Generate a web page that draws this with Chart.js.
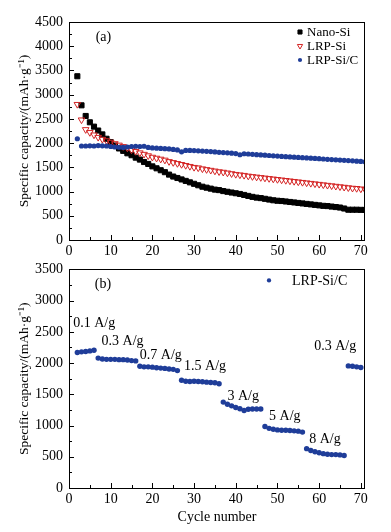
<!DOCTYPE html>
<html>
<head>
<meta charset="utf-8">
<script src="https://cdn.jsdelivr.net/npm/chart.js"></script>
<style>
  body { margin: 0; background: #fff; width: 391px; height: 532px; position: relative; overflow: hidden; }
  canvas { position: absolute; left: 0; }
  #capChart { top: 0; }
  #rateChart { top: 255px; }
</style>
</head>
<body>
<canvas id="capChart" width="391" height="260" style="width:391px;height:260px"></canvas>
<canvas id="rateChart" width="391" height="277" style="width:391px;height:277px"></canvas>
<script>
// (a) cycling at constant current
const cyclesA = [2, 3, 4, 5, 6, 7, 8, 9, 10, 11, 12, 13, 14, 15, 16, 17, 18, 19, 20, 21,
  22, 23, 24, 25, 26, 27, 28, 29, 30, 31, 32, 33, 34, 35, 36, 37, 38, 39, 40, 41,
  42, 43, 44, 45, 46, 47, 48, 49, 50, 51, 52, 53, 54, 55, 56, 57, 58, 59, 60, 61,
  62, 63, 64, 65, 66, 67, 68, 69, 70, 71];
const nanoSi = [3380, 2780, 2560, 2430, 2340, 2260, 2180, 2090, 2020, 1950,
  1890, 1840, 1790, 1750, 1700, 1660, 1610, 1570, 1520, 1480,
  1440, 1400, 1350, 1310, 1280, 1250, 1220, 1190, 1160, 1130,
  1100, 1080, 1060, 1040, 1030, 1010, 995, 980, 965, 950,
  930, 910, 890, 875, 865, 850, 835, 820, 810, 805,
  795, 785, 775, 765, 755, 745, 735, 725, 715, 705,
  700, 690, 680, 670, 650, 625, 625, 625, 622, 620];
const lrpSi = [2800, 2480, 2280, 2220, 2170, 2120, 2080, 2050, 2020, 1990,
  1960, 1930, 1900, 1860, 1830, 1800, 1770, 1740, 1710, 1690,
  1670, 1650, 1620, 1600, 1580, 1560, 1540, 1520, 1500, 1490,
  1470, 1455, 1440, 1425, 1410, 1400, 1385, 1370, 1355, 1345,
  1335, 1320, 1310, 1300, 1290, 1280, 1270, 1260, 1250, 1240,
  1230, 1220, 1210, 1200, 1190, 1180, 1170, 1160, 1150, 1140,
  1130, 1120, 1110, 1100, 1090, 1080, 1070, 1065, 1055, 1045];
const lrpSiC = [2090, 1940, 1940, 1945, 1940, 1950, 1945, 1940, 1930, 1920,
  1915, 1910, 1920, 1930, 1935, 1930, 1935, 1910, 1900, 1895,
  1890, 1885, 1880, 1870, 1860, 1820, 1850, 1850, 1845, 1840,
  1835, 1830, 1825, 1818, 1810, 1805, 1800, 1792, 1785, 1760,
  1780, 1775, 1768, 1762, 1756, 1750, 1744, 1738, 1732, 1726,
  1720, 1715, 1710, 1705, 1700, 1695, 1690, 1684, 1678, 1672,
  1666, 1660, 1655, 1650, 1645, 1640, 1635, 1628, 1622, 1615];

// (b) rate capability of LRP-Si/C
const cyclesB = [2, 3, 4, 5, 6, 7, 8, 9, 10, 11, 12, 13, 14, 15, 16, 17, 18, 19, 20, 21,
  22, 23, 24, 25, 26, 27, 28, 29, 30, 31, 32, 33, 34, 35, 36, 37, 38, 39, 40, 41,
  42, 43, 44, 45, 46, 47, 48, 49, 50, 51, 52, 53, 54, 55, 56, 57, 58, 59, 60, 61,
  62, 63, 64, 65, 66, 67, 68, 69, 70];
const rateCap = [2170, 2180, 2185, 2195, 2205,
  2080, 2065, 2060, 2060, 2060, 2055, 2055, 2050, 2040, 2035,
  1950, 1940, 1940, 1935, 1925, 1920, 1915, 1905, 1900, 1880,
  1725, 1710, 1705, 1710, 1705, 1700, 1695, 1690, 1685, 1670,
  1375, 1340, 1315, 1290, 1270, 1240, 1260, 1265, 1265, 1265,
  985, 955, 940, 930, 925, 925, 920, 915, 910, 895,
  630, 600, 580, 565, 550, 540, 535, 535, 530, 520,
  1955, 1950, 1940, 1930];
const rateText = ['0.1 A/g', '0.3 A/g', '0.7 A/g', '1.5 A/g', '3 A/g', '5 A/g', '8 A/g', '0.3 A/g'];
const rateTextX = [1.0, 7.8, 17.0, 27.6, 38.0, 48.0, 57.6, 58.8];
const rateTextY = [2630, 2345, 2120, 1945, 1470, 1155, 780, 2265];

const serif = '"Liberation Serif", "Times New Roman", serif';
Chart.defaults.font.family = serif;
Chart.defaults.color = '#000';

function pts(xs, ys) {
  return xs.map((x, i) => ({ x: x, y: ys[i] }));
}

// box round the plot, ticks pointing inwards
const framePlugin = {
  id: 'frame',
  afterDraw(chart) {
    const { ctx, chartArea: a } = chart;
    const x = chart.scales.x, y = chart.scales.y;
    ctx.save();
    ctx.strokeStyle = '#000';
    ctx.lineWidth = 1;
    ctx.strokeRect(Math.round(a.left) + 0.5, Math.round(a.top) + 0.5,
      Math.round(a.right - a.left) - 1, Math.round(a.bottom - a.top));
    ctx.beginPath();
    const ys = y.ticks.map(t => t.value);
    for (let i = 0; i < ys.length; i++) {
      const p = Math.round(y.getPixelForValue(ys[i])) + 0.5;
      ctx.moveTo(a.left, p); ctx.lineTo(a.left + 5, p);
      if (i < ys.length - 1) {
        const m = Math.round(y.getPixelForValue((ys[i] + ys[i + 1]) / 2)) + 0.5;
        ctx.moveTo(a.left, m); ctx.lineTo(a.left + 3, m);
      }
    }
    const xs = x.ticks.map(t => t.value);
    for (let i = 0; i < xs.length; i++) {
      const p = Math.round(x.getPixelForValue(xs[i])) + 0.5;
      ctx.moveTo(p, a.bottom); ctx.lineTo(p, a.bottom - 5);
      const m = Math.round(x.getPixelForValue(xs[i] + 5)) + 0.5;
      if (m < a.right) { ctx.moveTo(m, a.bottom); ctx.lineTo(m, a.bottom - 3); }
    }
    ctx.stroke();
    ctx.restore();
  }
};

// free text placed in data units
const notesPlugin = {
  id: 'notes',
  afterDraw(chart, args, opts) {
    const { ctx } = chart;
    const x = chart.scales.x, y = chart.scales.y;
    ctx.save();
    ctx.fillStyle = '#000';
    ctx.textAlign = 'left';
    ctx.textBaseline = 'middle';
    ctx.font = opts.font;
    (opts.items || []).forEach(n => {
      ctx.fillText(n.text, x.getPixelForValue(n.x), y.getPixelForValue(n.y));
    });
    ctx.restore();
  }
};

// small legend in the upper right corner
const cornerLegend = {
  id: 'cornerLegend',
  afterDraw(chart, args, opts) {
    const { ctx, chartArea: a } = chart;
    ctx.save();
    ctx.font = opts.font;
    ctx.textAlign = 'left';
    ctx.textBaseline = 'middle';
    chart.data.datasets.forEach((ds, i) => {
      const yy = a.top + opts.top + i * opts.gap;
      const mx = a.right - opts.markX;
      ctx.fillStyle = ds.pointBackgroundColor;
      ctx.strokeStyle = ds.pointBorderColor;
      ctx.lineWidth = ds.pointBorderWidth;
      Chart.helpers.drawPoint(ctx, {
        pointStyle: ds.pointStyle, radius: ds.pointRadius * 0.8,
        rotation: ds.pointRotation || 0, borderWidth: ds.pointBorderWidth
      }, mx, yy);
      ctx.fillStyle = '#000';
      ctx.fillText(ds.label, a.right - opts.textX, yy + 1);
    });
    ctx.restore();
  }
};

const tickFont = { size: 14, family: serif };
const titleFont = { size: 13.5, family: serif };
const blue = '#1f3d99';
const red = '#d42424';

function baseScales(ymax, xHeight, withTitle) {
  return {
    x: {
      type: 'linear', min: 0, max: 71,
      grid: { display: false, drawTicks: false },
      border: { display: false },
      ticks: { stepSize: 10, includeBounds: false, padding: 3, font: tickFont, color: '#000',
        callback: v => String(v) },
      title: withTitle ? { display: true, text: 'Cycle number', font: { size: 14, family: serif }, color: '#000', padding: { top: 0, bottom: 6 } } : { display: false },
      afterFit: s => { s.height = xHeight; }
    },
    y: {
      min: 0, max: ymax,
      grid: { display: false, drawTicks: false },
      border: { display: false },
      ticks: { stepSize: 500, padding: 6, font: tickFont, color: '#000',
        callback: v => String(v) },
      title: { display: true, text: 'Specific capacity/(mAh·g⁻¹)', font: titleFont, color: '#000', padding: { top: 16, bottom: 0 } },
      afterFit: s => { s.width = 69; }
    }
  };
}

new Chart(document.getElementById('capChart'), {
  type: 'scatter',
  data: {
    datasets: [
      {
        label: 'Nano-Si', data: pts(cyclesA, nanoSi), order: 3,
        pointStyle: 'rect', pointRadius: 3.6, pointBorderWidth: 1,
        pointBackgroundColor: '#000', pointBorderColor: '#000'
      },
      {
        label: 'LRP-Si', data: pts(cyclesA, lrpSi), order: 2,
        pointStyle: 'triangle', pointRotation: 180, pointRadius: 3.8, pointBorderWidth: 1,
        pointBackgroundColor: 'rgba(255,255,255,0)', pointBorderColor: red
      },
      {
        label: 'LRP-Si/C', data: pts(cyclesA, lrpSiC), order: 1,
        pointStyle: 'circle', pointRadius: 2.6, pointBorderWidth: 0,
        pointBackgroundColor: blue, pointBorderColor: blue
      }
    ]
  },
  options: {
    responsive: false, animation: false, devicePixelRatio: 1,
    layout: { padding: { top: 22, right: 26, left: 0, bottom: 0 } },
    scales: baseScales(4500, 20, false),
    plugins: {
      legend: { display: false }, tooltip: { enabled: false },
      notes: { font: '14px ' + serif, items: [{ text: '(a)', x: 6.4, y: 4185 }] },
      cornerLegend: { font: '13px ' + serif, top: 10, gap: 14, markX: 65, textX: 58 }
    }
  },
  plugins: [framePlugin, notesPlugin, cornerLegend]
});

const rateNotes = rateText.map((t, i) => ({ text: t, x: rateTextX[i], y: rateTextY[i] }));
rateNotes.push({ text: '(b)', x: 6.2, y: 3265 });

new Chart(document.getElementById('rateChart'), {
  type: 'scatter',
  data: {
    datasets: [
      {
        label: 'LRP-Si/C', data: pts(cyclesB, rateCap),
        pointStyle: 'circle', pointRadius: 2.7, pointBorderWidth: 0,
        pointBackgroundColor: blue, pointBorderColor: blue
      }
    ]
  },
  options: {
    responsive: false, animation: false, devicePixelRatio: 1,
    layout: { padding: { top: 14, right: 26, left: 0, bottom: 0 } },
    scales: baseScales(3500, 44, true),
    plugins: {
      legend: { display: false }, tooltip: { enabled: false },
      notes: { font: '14px ' + serif, items: rateNotes },
      cornerLegend: { font: '14px ' + serif, top: 11, gap: 14, markX: 96, textX: 73 }
    }
  },
  plugins: [framePlugin, notesPlugin, cornerLegend]
});
</script>
</body>
</html>
